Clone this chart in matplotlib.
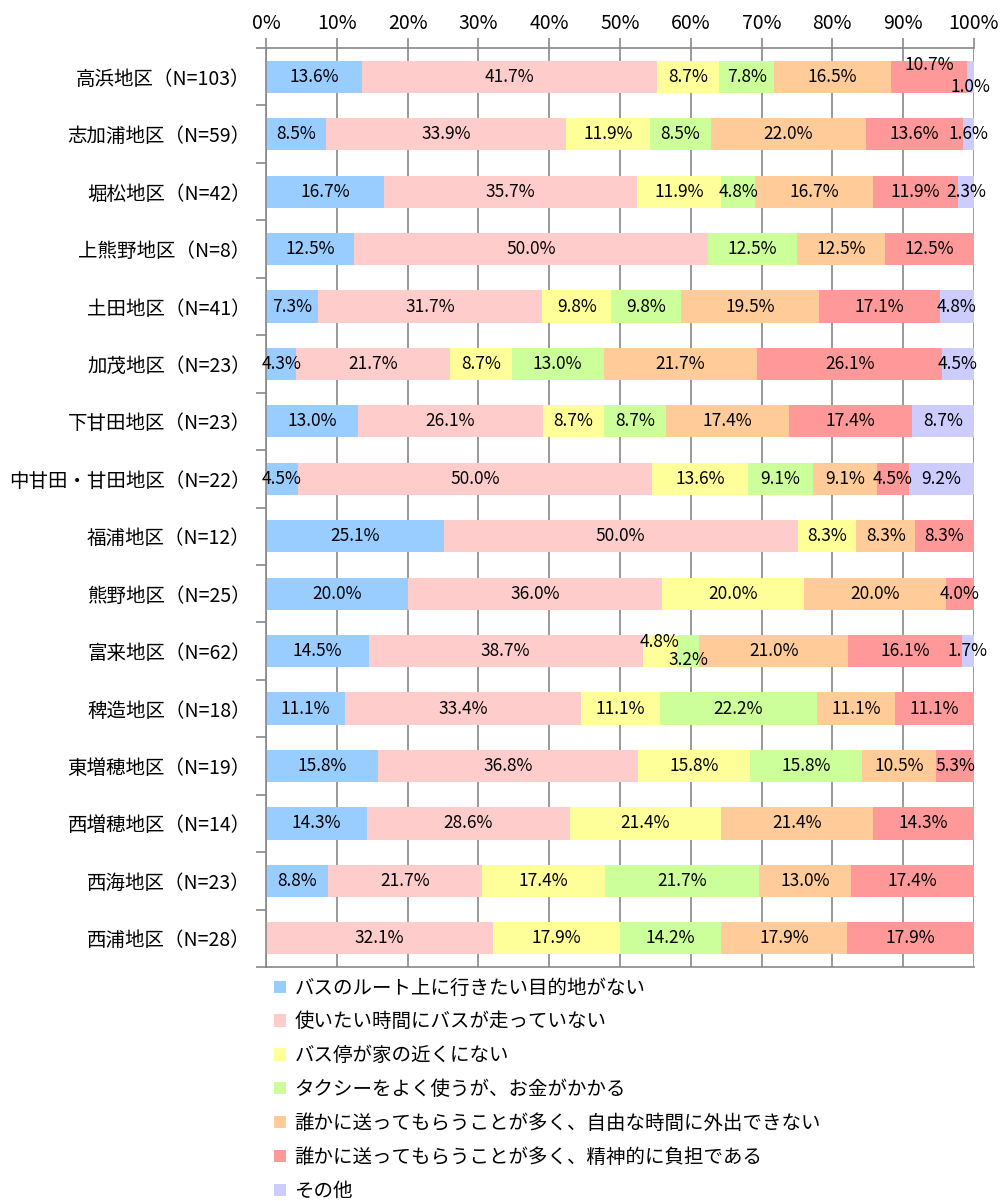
import matplotlib
matplotlib.use('Agg')
import matplotlib.pyplot as plt
import numpy as np

plt.rcParams['font.family'] = ['Noto Sans CJK JP', 'DejaVu Sans']

# 地区（上から順）
districts = ['高浜地区（N=103）', '志加浦地区（N=59）', '堀松地区（N=42）', '上熊野地区（N=8）',
             '土田地区（N=41）', '加茂地区（N=23）', '下甘田地区（N=23）', '中甘田・甘田地区（N=22）',
             '福浦地区（N=12）', '熊野地区（N=25）', '富来地区（N=62）', '稗造地区（N=18）',
             '東増穂地区（N=19）', '西増穂地区（N=14）', '西海地区（N=23）', '西浦地区（N=28）']

series_names = ['バスのルート上に行きたい目的地がない',
                '使いたい時間にバスが走っていない',
                'バス停が家の近くにない',
                'タクシーをよく使うが、お金がかかる',
                '誰かに送ってもらうことが多く、自由な時間に外出できない',
                '誰かに送ってもらうことが多く、精神的に負担である',
                'その他']

no_destination = [13.6, 8.5, 16.7, 12.5, 7.3, 4.3, 13.0, 4.5, 25.1, 20.0, 14.5, 11.1, 15.8, 14.3, 8.8, 0]
no_time = [41.7, 33.9, 35.7, 50.0, 31.7, 21.7, 26.1, 50.0, 50.0, 36.0, 38.7, 33.4, 36.8, 28.6, 21.7, 32.1]
stop_far = [8.7, 11.9, 11.9, 0, 9.8, 8.7, 8.7, 13.6, 8.3, 20.0, 4.8, 11.1, 15.8, 21.4, 17.4, 17.9]
taxi_cost = [7.8, 8.5, 4.8, 12.5, 9.8, 13.0, 8.7, 9.1, 0, 0, 3.2, 22.2, 15.8, 0, 21.7, 14.2]
no_free_time = [16.5, 22.0, 16.7, 12.5, 19.5, 21.7, 17.4, 9.1, 8.3, 20.0, 21.0, 11.1, 10.5, 21.4, 13.0, 17.9]
burden = [10.7, 13.6, 11.9, 12.5, 17.1, 26.1, 17.4, 4.5, 8.3, 4.0, 16.1, 11.1, 5.3, 14.3, 17.4, 17.9]
other = [1.0, 1.6, 2.3, 0, 4.8, 4.5, 8.7, 9.2, 0, 0, 1.7, 0, 0, 0, 0, 0]

colors = ['#99CCFF', '#FFCCCC', '#FFFF99', '#CCFF99', '#FFCC99', '#FF9999', '#CCCCFF']

data = np.array([no_destination, no_time, stop_far, taxi_cost, no_free_time, burden, other])

fig = plt.figure(figsize=(10.01, 12.01), dpi=100)
ax = fig.add_axes([0.2657, 0.1948, 0.973 - 0.2657, 0.960 - 0.1948])

y = np.arange(len(districts))
left = np.zeros(len(districts))
# 重なるラベルの上下ずらし (行, 系列) -> 縦方向オフセット
shifts = {(0, 5): -0.2, (0, 6): 0.18, (10, 2): -0.16, (10, 3): 0.16}
for k in range(data.shape[0]):
    vals = data[k]
    ax.barh(y, vals, left=left, height=0.56, color=colors[k], label=series_names[k], zorder=2)
    for i, v in enumerate(vals):
        if v > 0:
            ax.text(left[i] + v / 2, y[i] + shifts.get((i, k), 0), f'{v:.1f}%',
                    ha='center', va='center', fontsize=12.5, zorder=3)
    left += vals

ax.set_xlim(0, 100)
ax.set_ylim(len(districts) - 0.5, -0.5)
ax.xaxis.tick_top()
ax.set_xticks(np.arange(0, 101, 10))
ax.set_xticklabels([f'{t}%' for t in range(0, 101, 10)], fontsize=14)
ax.set_yticks(y)
ax.set_yticklabels(districts, fontsize=14)
ax.set_yticks(np.arange(-0.5, len(districts), 1), minor=True)
ax.tick_params(axis='y', which='major', length=0, pad=11)
ax.tick_params(axis='y', which='minor', length=7, color='#888888', width=1.2)
ax.tick_params(axis='x', length=7, color='#888888', width=1.2, pad=3)
ax.grid(axis='x', color='#888888', linewidth=1.2, zorder=0)
ax.set_axisbelow(True)
for s in ['top', 'left', 'bottom']:
    ax.spines[s].set_color('#888888')
    ax.spines[s].set_linewidth(1.2)
ax.spines['right'].set_visible(False)

fig.legend(loc='upper left', bbox_to_anchor=(0.266, 0.1925), frameon=False, ncol=1,
           fontsize=14, handlelength=0.6, handleheight=0.6, handletextpad=0.45,
           labelspacing=0.66, borderaxespad=0)

fig.savefig('out.png', dpi=100)
